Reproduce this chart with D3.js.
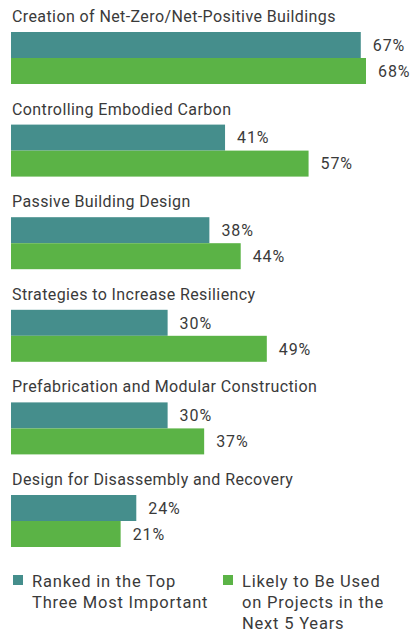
<!DOCTYPE html>
<html>
<head>
<meta charset="utf-8">
<script src="https://cdn.jsdelivr.net/npm/d3@7"></script>
<style>
  html, body { margin: 0; padding: 0; background: #fff; }
  svg { display: block; font-family: Roboto, "Noto Sans", sans-serif; }
</style>
</head>
<body>
<svg id="chart" width="412" height="633"></svg>
<script>
// Survey categories, top to bottom
const categories = [
  "Creation of Net-Zero/Net-Positive Buildings",
  "Controlling Embodied Carbon",
  "Passive Building Design",
  "Strategies to Increase Resiliency",
  "Prefabrication and Modular Construction",
  "Design for Disassembly and Recovery"
];
// Percent of respondents
const rankedTopThree = [67, 41, 38, 30, 30, 24];
const likelyNext5Years = [68, 57, 44, 49, 37, 21];
const seriesNames = [
  ["Ranked in the Top", "Three Most Important"],
  ["Likely to Be Used", "on Projects in the", "Next 5 Years"]
];
const colors = ["#458e8c", "#5bb346"];

const svg = d3.select("#chart");
const textColor = "#3a3a3a";

const x = d3.scaleLinear().domain([0, 68]).range([11, 366]);
const groupY = d3.scalePoint().domain(categories).range([32, 495]);
const barH = 26;

const series = [rankedTopThree, likelyNext5Years];

const groups = svg.selectAll("g.cat")
  .data(categories)
  .join("g")
  .attr("class", "cat")
  .attr("transform", d => `translate(0,${groupY(d)})`);

groups.append("text")
  .attr("x", 12)
  .attr("y", -10)
  .attr("font-size", 16)
  .attr("letter-spacing", 0.4)
  .attr("fill", textColor)
  .text(d => d);

series.forEach((vals, si) => {
  groups.append("rect")
    .attr("x", x(0))
    .attr("y", si * barH)
    .attr("width", (d, i) => x(vals[i]) - x(0))
    .attr("height", barH)
    .attr("fill", colors[si]);
  groups.append("text")
    .attr("x", (d, i) => x(vals[i]) + 12)
    .attr("y", si * barH + barH / 2)
    .attr("dy", "0.36em")
    .attr("font-size", 16)
    .attr("letter-spacing", 0.9)
    .attr("fill", textColor)
    .text((d, i) => vals[i] + "%");
});

// Legend
const legend = svg.append("g").attr("transform", "translate(0,575)");
const legendX = [13, 223];
seriesNames.forEach((lines, si) => {
  const g = legend.append("g").attr("transform", `translate(${legendX[si]},0)`);
  g.append("rect").attr("width", 10).attr("height", 10).attr("fill", colors[si]);
  g.append("text")
    .attr("x", 19)
    .attr("y", 12)
    .attr("font-size", 16.5)
    .attr("letter-spacing", 0.8)
    .attr("fill", textColor)
    .selectAll("tspan")
    .data(lines)
    .join("tspan")
    .attr("x", 19)
    .attr("dy", (d, i) => i === 0 ? 0 : 21)
    .text(d => d);
});
</script>
</body>
</html>
